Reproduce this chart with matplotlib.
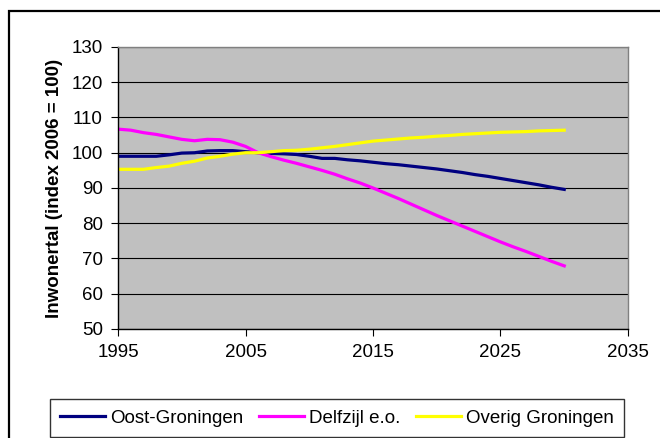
import matplotlib.pyplot as plt
import matplotlib.patches as patches

# Bevolkingsontwikkeling, index 2006 = 100
years = list(range(1995, 2031))

oost_groningen = [99.0, 99.0, 99.0, 99.0, 99.4, 99.9, 100.0, 100.5, 100.6, 100.6,
                  100.3, 100.0, 99.8, 99.7, 99.5, 99.0, 98.4, 98.4, 98.0, 97.7,
                  97.3, 96.9, 96.6, 96.2, 95.8, 95.4, 94.9, 94.4, 93.8, 93.3,
                  92.7, 92.1, 91.5, 90.9, 90.2, 89.6]

delfzijl = [106.7, 106.4, 105.7, 105.2, 104.5, 103.8, 103.4, 103.8, 103.7, 103.0,
            101.8, 100.0, 98.9, 97.9, 97.0, 96.0, 95.0, 93.9, 92.6, 91.4,
            90.0, 88.5, 87.0, 85.4, 83.8, 82.2, 80.7, 79.2, 77.7, 76.2,
            74.7, 73.3, 72.0, 70.6, 69.2, 67.9]

overig_groningen = [95.3, 95.3, 95.3, 95.8, 96.2, 97.0, 97.6, 98.5, 99.0, 99.6,
                    100.0, 100.0, 100.3, 100.6, 100.7, 101.0, 101.4, 101.8, 102.3, 102.8,
                    103.3, 103.6, 103.9, 104.2, 104.4, 104.7, 104.9, 105.2, 105.4, 105.6,
                    105.8, 105.9, 106.0, 106.2, 106.3, 106.4]

plt.rcParams['font.family'] = ['Liberation Sans', 'DejaVu Sans']

fig = plt.figure(figsize=(6.6, 4.38), dpi=100)
ax = fig.add_axes([0.1788, 0.2489, 0.7727, 0.6438])

ax.set_facecolor('#c0c0c0')
ax.plot(years, oost_groningen, color='#000080', linewidth=2.3, label='Oost-Groningen')
ax.plot(years, delfzijl, color='#ff00ff', linewidth=2.3, label='Delfzijl e.o.')
ax.plot(years, overig_groningen, color='#ffff00', linewidth=2.3, label='Overig Groningen')

ax.set_xlim(1995, 2035)
ax.set_ylim(50, 130)
ax.set_xticks(range(1995, 2036, 10))
ax.set_yticks(range(50, 131, 10))
ax.grid(axis='y', color='#000000', linewidth=0.8)
ax.set_axisbelow(True)

ax.tick_params(direction='out', length=5, width=0.8, labelsize=13.5, pad=6)
ax.spines['left'].set_color('black')
ax.spines['bottom'].set_color('black')
ax.spines['top'].set_color('#808080')
ax.spines['right'].set_color('#808080')
for s in ax.spines.values():
    s.set_linewidth(1.0)

ax.set_ylabel('Inwonertal (index 2006 = 100)', fontsize=13.5, fontweight='bold', labelpad=6)

# outer chart frame (cut off on the right and bottom)
frame = patches.Rectangle((9 / 660, -0.1), 1.2, 0.975 + 0.1, transform=fig.transFigure,
                          fill=False, edgecolor='black', linewidth=1.6, clip_on=False)
fig.patches.append(frame)

leg = fig.legend(loc='lower left', bbox_to_anchor=(0.0758, 0.002, 0.8697, 0.087),
                 mode='expand', ncol=3, fontsize=13.5, frameon=True, fancybox=False,
                 edgecolor='black', handlelength=2.4, handletextpad=0.25,
                 borderaxespad=0, borderpad=0.55, columnspacing=0.6)
leg.get_frame().set_linewidth(1.0)

fig.savefig('out.png', dpi=100)
